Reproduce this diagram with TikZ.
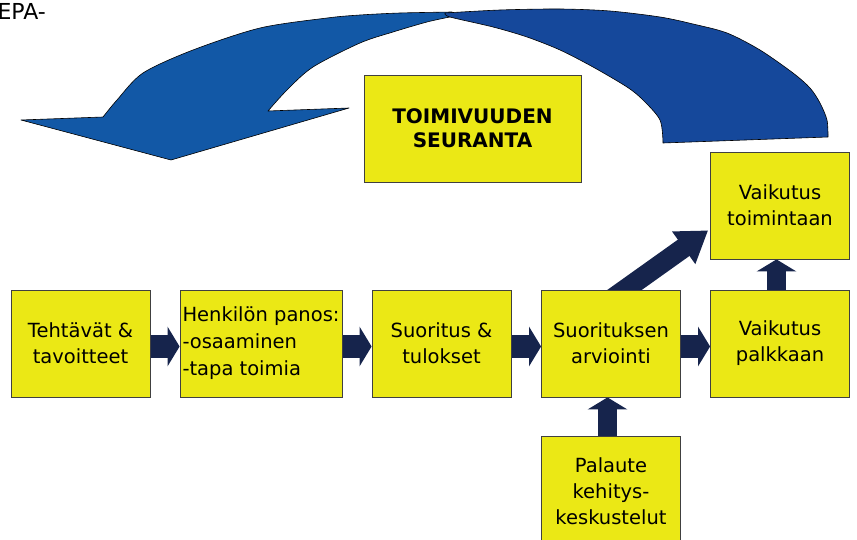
\documentclass[tikz,border=0pt]{standalone}
\usepackage{fontspec}
\setmainfont{DejaVu Sans}
\usetikzlibrary{arrows.meta,calc,backgrounds}
\definecolor{boxyellow}{HTML}{EBE815}
\definecolor{navy}{HTML}{16244C}
\definecolor{bluelight}{HTML}{1258A6}
\definecolor{bluedark}{HTML}{15489B}
\begin{document}
\begin{tikzpicture}[x=1pt,y=-1pt,
  box/.style={draw=black!75, line width=0.8pt, fill=boxyellow, minimum width=139pt,
    minimum height=107pt, inner sep=0pt, align=center, font=\fontsize{19.5}{26}\selectfont},
  harrow/.style={draw=navy, line width=23pt, -{Triangle[width=39pt,length=12pt]}},
  varrow/.style={draw=navy, line width=19pt, -{Triangle[width=39pt,length=12pt]}},
  darrow/.style={draw=navy, line width=20pt, -{Triangle[width=38pt,length=30pt]}},
  ribbon/.style={draw=black, line width=0.6pt, line join=round}
]
\useasboundingbox (0,0) rectangle (857,540);

% big curved return arrow
\filldraw[ribbon, fill=bluelight]
  plot[smooth] coordinates {(452,12) (400,13) (360,15) (327,18) (260,28) (193,50) (143,73) (117,100) (103,117)}
  -- (21,120) -- (171,160) -- (349,108) -- (268,111)
  -- plot[smooth] coordinates {(268,111) (287,90) (313,67) (360,43) (393,32) (427,22) (450,17)}
  -- cycle;
\filldraw[ribbon, fill=bluedark]
  plot[smooth] coordinates {(828,137) (827,120) (820,103) (810,88) (793,73) (760,50) (727,33) (693,24) (660,17) (610,11) (560,9) (500,10) (445,13)}
  -- plot[smooth] coordinates {(445,13) (450,17) (493,27) (527,37) (560,50) (593,67) (627,87) (643,100) (660,120) (663,143)}
  -- cycle;

\node[anchor=base east, inner sep=0pt, font=\fontsize{22}{26}\selectfont] (epa) at (46,19.5) {EPA-};

% boxes
\node[box] (b1) at (80.5,343.5) {Tehtävät \&\\tavoitteet};
\node[box, minimum width=162pt, align=left, font=\fontsize{19.5}{27}\selectfont] (b2) at (261,343.5) {Henkilön panos:\\-osaaminen\\-tapa toimia};
\node[box] (b3) at (441.5,343.5) {Suoritus \&\\tulokset};
\node[box] (b4) at (611,343.5) {Suorituksen\\arviointi};
\node[box] (b5) at (780,343.5) {Vaikutus\\palkkaan};
\node[box] (b6) at (780,205.5) {Vaikutus\\toimintaan};
\node[box, minimum height=110pt] (b7) at (611,491) {Palaute\\kehitys-\\keskustelut};
\node[box, minimum width=217pt, font=\bfseries\fontsize{20}{24}\selectfont] (tm) at (472.5,128.5) {TOIMIVUUDEN\\SEURANTA};

% block arrows
\begin{pgfonlayer}{background}
\draw[harrow] ($(b1.east)+(0,3)$) -- ($(b2.west)+(0,3)$);
\draw[harrow] ($(b2.east)+(0,3)$) -- ($(b3.west)+(0,3)$);
\draw[harrow] ($(b3.east)+(0,3)$) -- ($(b4.west)+(0,3)$);
\draw[harrow] ($(b4.east)+(0,3)$) -- ($(b5.west)+(0,3)$);
\draw[varrow] ($(b7.north)+(-3.5,0)$) -- ($(b4.south)+(-3.5,0)$);
\draw[varrow] ($(b5.north)+(-3.5,0)$) -- ($(b6.south)+(-3.5,0)$);
\draw[darrow] ($(b4.north)+(1.8,8.7)$) -- ($(b6.south west)+(-2,-29)$);
\end{pgfonlayer}
\end{tikzpicture}
\end{document}
